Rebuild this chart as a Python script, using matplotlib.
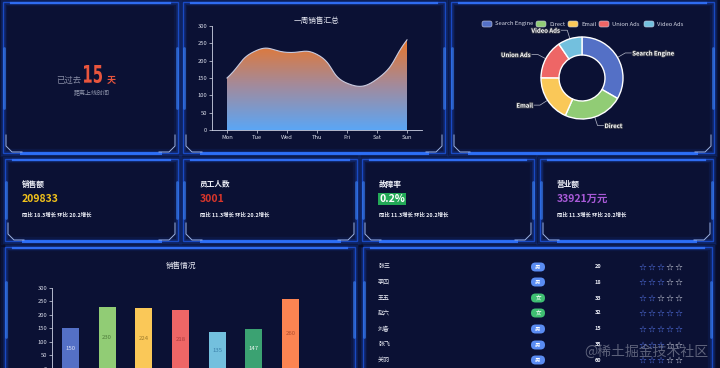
import numpy as np
import matplotlib
matplotlib.use('Agg')
import matplotlib.pyplot as plt
from matplotlib.patches import Rectangle, FancyBboxPatch, Polygon, PathPatch
from matplotlib.colors import LinearSegmentedColormap
from matplotlib.textpath import TextPath
from matplotlib.font_manager import FontProperties
from matplotlib.transforms import Affine2D
import matplotlib.patheffects as pe

plt.rcParams['font.family'] = ['Noto Sans CJK SC', 'DejaVu Sans']

W, H = 720, 368

# data
days = ['Mon', 'Tue', 'Wed', 'Thu', 'Fri', 'Sat', 'Sun']
sales = [150, 230, 224, 218, 135, 147, 260]
bar_colors = ['#5470c6', '#91cc75', '#fac858', '#ee6666', '#73c0de', '#3ba272', '#fc8452']
bar_label_colors = ['#dfe5f8', '#4f7d3c', '#9c7b2c', '#a83a3a', '#3b80aa', '#eef8f2', '#b04c2c']

source_names = ['Search Engine', 'Direct', 'Email', 'Union Ads', 'Video Ads']
source_values = [1048, 735, 580, 484, 300]
source_colors = ['#5470c6', '#91cc75', '#fac858', '#ee6666', '#73c0de']

card_titles = ['销售额', '员工人数', '故障率', '营业额']
card_values = ['209833', '3001', '0.2%', '33921万元']
card_colors = ['#f2c21b', '#d9362b', '#ffffff', '#a95ad8']
card_notes = ['同比 18.3增长 环比 20.2增长', '同比 11.3增长 环比 20.2增长',
              '同比 11.3增长 环比 20.2增长', '同比 11.3增长 环比 20.2增长']

names = ['张三', '李四', '王五', '赵六', '刘备', '张飞', '关羽']
genders = ['男', '男', '女', '女', '男', '男', '男']
ages = [20, 18, 33, 32, 15, 35, 60]
ratings = [3, 3, 2, 5, 5, 3, 3]

days_passed = 15

fig = plt.figure(figsize=(W / 100, H / 100), dpi=100, facecolor='#090c27')
bg = fig.add_axes([0, 0, 1, 1])
bg.set_xlim(0, W)
bg.set_ylim(H, 0)
bg.axis('off')


def px_axes(x0, y0, x1, y1):
    ax = fig.add_axes([x0 / W, 1 - y1 / H, (x1 - x0) / W, (y1 - y0) / H])
    ax.patch.set_alpha(0)
    return ax


def panel(x0, y0, x1, y1):
    bg.add_patch(Rectangle((x0, y0), x1 - x0, y1 - y0, facecolor='#0b1134',
                           edgecolor='none', zorder=1))
    for lw, a in [(6, 0.10), (3.5, 0.2), (1.0, 0.85)]:
        bg.add_patch(Rectangle((x0, y0), x1 - x0, y1 - y0, fill=False,
                               edgecolor='#1c52d6', lw=lw, alpha=a, zorder=2))
    bg.plot([x0 + 8, x1 - 8], [y0 + 0.5, y0 + 0.5], color='#2f6cf0', lw=1.6, zorder=3)
    bg.plot([x0 + 18, x1 - 18], [y1 - 0.5, y1 - 0.5], color='#2f74ff', lw=2.2, alpha=0.9, zorder=3)
    ym = (y0 + y1) / 2
    hh = min((y1 - y0) * 0.22, 30)
    for x in (x0 + 1, x1 - 1):
        bg.plot([x, x], [ym - hh, ym + hh], color='#3d86ff', lw=2.0, alpha=0.6,
                zorder=3, solid_capstyle='round')
    c = '#9db2e2'
    if y1 < H:
        bg.plot([x0 + 3, x0 + 3, x0 + 9, x0 + 19], [y1 - 18, y1 - 7, y1 - 1, y1 - 1],
                color=c, lw=0.7, zorder=4)
        bg.plot([x1 - 3, x1 - 3, x1 - 9, x1 - 19], [y1 - 18, y1 - 7, y1 - 1, y1 - 1],
                color=c, lw=0.7, zorder=4)


for box in [(3, 2, 178, 153), (183, 2, 445, 153), (451, 2, 714, 153),
            (5, 159, 178, 241), (183, 159, 357, 241), (362, 159, 534, 241), (540, 159, 713, 241),
            (5, 247, 355, 372), (363, 247, 712, 372)]:
    panel(*box)

# panel 1 - days counter (narrow digits drawn as a squeezed text path)
bg.text(81, 80, '已过去', color='#8b90a8', fontsize=6, ha='right', va='center', zorder=5)
tp = TextPath((0, 0), str(days_passed), size=1, prop=FontProperties(family='DejaVu Sans', weight='bold'))
ext = tp.get_extents()
sx = 18 / ext.width
sy = 18 / ext.height
tr = Affine2D().translate(-ext.x0, -ext.y0).scale(sx, -sy).translate(84, 83)
bg.add_patch(PathPatch(tr.transform_path(tp), facecolor='#e9553d', edgecolor='none', zorder=5))
bg.text(107, 80, '天', color='#e9553d', fontsize=6.5, fontweight='bold', ha='left',
        va='center', zorder=5)
bg.text(92, 93, '距离上线时间', color='#9096ad', fontsize=4.3, ha='center', va='center', zorder=5)

# panel 2 - smooth area chart
ax = px_axes(212, 26, 422, 130)
xs = np.arange(len(sales), dtype=float)
ys = np.array(sales, dtype=float)
yscale = 104 / 300.0
xscale = 30.0
pts = np.column_stack([xs * xscale, ys * yscale])
smooth = 0.5
cps = []
for i in range(len(pts)):
    prev = pts[max(i - 1, 0)]
    nxt = pts[min(i + 1, len(pts) - 1)]
    cur = pts[i]
    v = nxt - prev
    d0 = np.linalg.norm(cur - prev)
    d1 = np.linalg.norm(nxt - cur)
    s = d0 + d1 if d0 + d1 > 0 else 1
    cps.append((cur - v * smooth * d0 / s, cur + v * smooth * d1 / s))
t = np.linspace(0, 1, 30)[:, None]
curve = []
for i in range(len(pts) - 1):
    p0, p3 = pts[i], pts[i + 1]
    p1, p2 = cps[i][1], cps[i + 1][0]
    seg = (1 - t) ** 3 * p0 + 3 * (1 - t) ** 2 * t * p1 + 3 * (1 - t) * t ** 2 * p2 + t ** 3 * p3
    curve.append(seg if i == 0 else seg[1:])
curve = np.vstack(curve)
cx = curve[:, 0] / xscale
cy = curve[:, 1] / yscale
poly = np.vstack([np.column_stack([cx, cy]), [[cx[-1], 0], [cx[0], 0]]])
grad = LinearSegmentedColormap.from_list('g', ['#5ba6f5', '#a48a9a', '#e8762a'])
img = ax.imshow(np.linspace(0, 1, 256)[:, None], cmap=grad, origin='lower', aspect='auto',
                extent=[0, len(sales) - 1, 0, max(sales)], zorder=1)
clip = Polygon(poly, closed=True, transform=ax.transData, facecolor='none', edgecolor='none')
ax.add_patch(clip)
img.set_clip_path(clip)
ax.plot(cx, cy, color='#c9cbe0', lw=0.8, zorder=2)
ax.set_xlim(-0.5, len(sales) - 0.5)
ax.set_ylim(0, 300)
ax.set_xticks(xs)
ax.set_xticklabels(days)
ax.set_yticks(range(0, 301, 50))
for sp in ['top', 'right']:
    ax.spines[sp].set_visible(False)
for sp in ['left', 'bottom']:
    ax.spines[sp].set_color('#cfd3e6')
    ax.spines[sp].set_linewidth(0.6)
ax.tick_params(colors='#d8dbe8', labelsize=4.2, length=2, width=0.5, pad=1.5)
bg.text(317, 21, '一周销售汇总', color='#e8eaf4', fontsize=5.5, ha='center', va='center', zorder=5)

# panel 3 - donut
dcx, dcy, R = 582, 78, 41
axd = px_axes(dcx - 45, dcy - 45, dcx + 45, dcy + 45)
wedges, _ = axd.pie(source_values, radius=R, startangle=90, counterclock=False,
                    colors=source_colors,
                    wedgeprops=dict(width=18, edgecolor='white', linewidth=1.0))
axd.set_xlim(-45, 45)
axd.set_ylim(-45, 45)
axd.set_aspect('equal')
axd.axis('off')
for w, name in zip(wedges, source_names):
    ang = np.deg2rad((w.theta1 + w.theta2) / 2)
    x0, y0 = dcx + R * np.cos(ang), dcy - R * np.sin(ang)
    x1, y1 = dcx + 50 * np.cos(ang), dcy - 50 * np.sin(ang)
    side = 1 if np.cos(ang) >= 0 else -1
    x2 = x1 + 6 * side
    bg.plot([x0, x1, x2], [y0, y1, y1], color='#b9bccb', lw=0.5, zorder=5)
    bg.text(x2 + side * 1, y1, name, color='white', fontsize=4.3, fontweight='bold',
            ha='left' if side > 0 else 'right', va='center', zorder=6,
            path_effects=[pe.withStroke(linewidth=1.2, foreground='#3a3d4a')])

legend_x = [482, 536, 568, 599, 644]
for lx, name, col in zip(legend_x, source_names, source_colors):
    bg.add_patch(FancyBboxPatch((lx, 21), 10, 6, boxstyle='round,pad=0,rounding_size=2',
                                facecolor=col, edgecolor='#c8cce0', lw=0.4, zorder=5))
    bg.text(lx + 13, 24, name, color='#d5d8e6', fontsize=4.2, ha='left', va='center', zorder=5)

# row 2 - cards
card_x = [22, 200, 379, 557]
for i in range(4):
    x = card_x[i]
    bg.text(x, 184, card_titles[i], color='#f0f2fa', fontsize=5.5, fontweight='bold',
            ha='left', va='center', zorder=5)
    kw = {}
    if card_values[i] == '0.2%':
        kw['bbox'] = dict(boxstyle='square,pad=0.12', facecolor='#23a957', edgecolor='none')
    bg.text(x, 199, card_values[i], color=card_colors[i], fontsize=7.5, fontweight='bold',
            ha='left', va='center', zorder=5, **kw)
    bg.text(x, 215, card_notes[i], color='#eef0f8', fontsize=3.9, fontweight='bold',
            ha='left', va='center', zorder=5)

# panel 8 - bar chart
axb = px_axes(52, 287.7, 309, 368.8)
bx = np.arange(len(sales))
axb.bar(bx, sales, width=0.46, color=bar_colors, zorder=2)
for xi, v, lc in zip(bx, sales, bar_label_colors):
    axb.text(xi, v / 2, str(v), color=lc, fontsize=4.3, ha='center', va='center', zorder=3)
axb.set_xlim(-0.5, len(sales) - 0.5)
axb.set_ylim(0, 300)
axb.set_yticks(range(0, 301, 50))
axb.set_xticks([])
for sp in ['top', 'right', 'bottom']:
    axb.spines[sp].set_visible(False)
axb.spines['left'].set_color('#cfd3e6')
axb.spines['left'].set_linewidth(0.6)
axb.tick_params(colors='#d8dbe8', labelsize=4.2, length=2, width=0.5, pad=1.5)
bg.text(181, 266, '销售情况', color='#e8eaf4', fontsize=5.5, ha='center', va='center', zorder=5)

# panel 9 - table
row_y = [267, 282, 298, 313, 329, 345, 360]
for y, nm, g, age, r in zip(row_y, names, genders, ages, ratings):
    bg.text(378, y, nm, color='#eef0f8', fontsize=4.3, ha='left', va='center', zorder=5)
    col = '#5a8cf2' if g == '男' else '#3fbf72'
    bg.add_patch(FancyBboxPatch((531, y - 4.5), 14, 9, boxstyle='round,pad=0,rounding_size=4.5',
                                facecolor=col, edgecolor='none', zorder=5))
    bg.text(538, y, g, color='white', fontsize=4, ha='center', va='center', zorder=6)
    bg.text(598, y, str(age), color='#eef0f8', fontsize=4, fontweight='bold',
            ha='center', va='center', zorder=5)
    for k in range(5):
        sc = '#5b7cf5' if k < r else '#dfe2ee'
        bg.text(642 + k * 9.2, y, '☆', color=sc, fontsize=6.5, family='DejaVu Sans',
                ha='center', va='center', zorder=5)

bg.text(646, 352, '@稀土掘金技术社区', color='#a0a4b4', alpha=0.55, fontsize=10,
        ha='center', va='center', zorder=7)

fig.savefig('out.png', dpi=100, facecolor=fig.get_facecolor())
